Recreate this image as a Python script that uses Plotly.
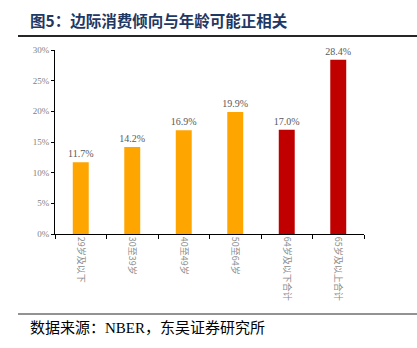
import plotly.graph_objects as go

categories = ["29岁及以下", "30至39岁", "40至49岁", "50至64岁", "64岁及以下合计", "65岁及以上合计"]
values = [0.117, 0.142, 0.169, 0.199, 0.170, 0.284]
colors = ["#FFA500", "#FFA500", "#FFA500", "#FFA500", "#C00000", "#C00000"]
title_text = "图5：边际消费倾向与年龄可能正相关"
source_text = "数据来源：NBER，东吴证券研究所"

W, H = 417, 348
L, R, T, B = 55, 53, 50, 114
pw, ph = W - L - R, H - T - B

def px_x(p):
    return (p - L) / pw

def px_y(p):
    return (H - B - p) / ph

fig = go.Figure(go.Bar(
    x=categories, y=values,
    marker=dict(color=colors, line=dict(width=0)),
    text=[f"{v*100:.1f}%" for v in values],
    textposition="outside",
    constraintext="none",
    textfont=dict(family="Liberation Serif", size=10, color="#595959"),
    cliponaxis=False,
    width=0.31,
))

fig.update_layout(
    width=W, height=H,
    margin=dict(l=L, r=R, t=T, b=B),
    paper_bgcolor="white", plot_bgcolor="white",
    showlegend=False,
    font=dict(family="Liberation Serif, Noto Sans CJK SC", color="#595959"),
    xaxis=dict(
        showline=True, linecolor="black", linewidth=1,
        ticks="outside", ticklen=4, tickcolor="black", tickson="boundaries",
        tickangle=90,
        tickfont=dict(family="Noto Sans CJK SC", size=9, color="#8c8c8c"),
        showgrid=False,
    ),
    yaxis=dict(
        range=[0, 0.30], dtick=0.05, tickformat=".0%",
        showline=True, linecolor="black", linewidth=1,
        ticks="outside", ticklen=3, tickcolor="black",
        tickfont=dict(family="Liberation Serif", size=9, color="#7f7f7f"),
        showgrid=False, zeroline=False,
    ),
    shapes=[
        dict(type="line", xref="paper", yref="paper",
             x0=px_x(18), x1=px_x(417), y0=px_y(36), y1=px_y(36),
             line=dict(color="#262626", width=2)),
        dict(type="line", xref="paper", yref="paper",
             x0=px_x(18), x1=px_x(417), y0=px_y(314), y1=px_y(314),
             line=dict(color="#262626", width=1)),
    ],
    annotations=[
        dict(text="<b>" + title_text + "</b>", xref="paper", yref="paper",
             x=px_x(28), y=px_y(20), xanchor="left", yanchor="middle",
             showarrow=False,
             font=dict(family="Noto Sans CJK SC", size=15.5, color="#1F3864")),
        dict(text=source_text, xref="paper", yref="paper",
             x=px_x(28), y=px_y(328), xanchor="left", yanchor="middle",
             showarrow=False,
             font=dict(family="Liberation Serif, Noto Sans CJK SC", size=15, color="black")),
    ],
)

fig.write_html("out.html")
